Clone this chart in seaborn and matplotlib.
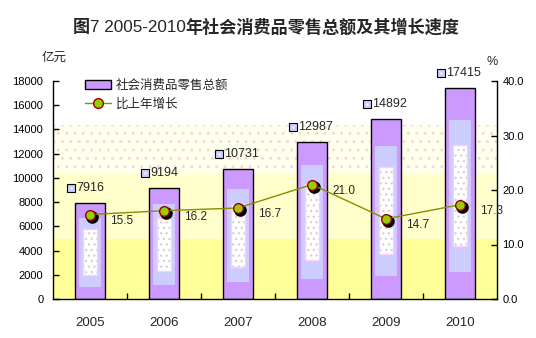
import matplotlib
matplotlib.use('Agg')
import matplotlib.pyplot as plt
from matplotlib.patches import Patch
from matplotlib.lines import Line2D
from matplotlib.transforms import ScaledTranslation
from matplotlib.ticker import FixedLocator, FormatStrFormatter
import numpy as np
import seaborn as sns

# 2005-2010 社会消费品零售总额 (亿元) and year-on-year growth (%)
years = ['2005', '2006', '2007', '2008', '2009', '2010']
retail_sales = [7916, 9194, 10731, 12987, 14892, 17415]
growth_rate = [15.5, 16.2, 16.7, 21.0, 14.7, 17.3]

sales_ticks = list(range(0, 18001, 2000))
rate_ticks = [0, 10, 20, 30, 40]

sns.set_style('white')
plt.rcParams['font.family'] = ['Liberation Sans', 'Noto Sans CJK SC', 'DejaVu Sans']
plt.rcParams['hatch.linewidth'] = 0.9
plt.rcParams['axes.unicode_minus'] = False

PURPLE = '#CC99FF'
LAVENDER = '#CCCCFF'
PINK = '#FFCCFF'
LINE = '#8C8C00'
DOT = '#99CC00'
DOT_EDGE = '#990000'

W, H = 536, 338
fig = plt.figure(figsize=(W / 100, H / 100), dpi=100)
ax = fig.add_axes([53 / W, 39 / H, 444 / W, 218 / H])
ax2 = ax.twinx()

# banded background of the plot area
ax.axhspan(0, 4950, color='#FFFF99', lw=0, zorder=0)
ax.axhspan(4950, 10400, color='#FFFFCC', lw=0, zorder=0)
ax.axhspan(10400, 14400, facecolor='#FFFFEE', lw=0, zorder=0)
ax.axhspan(10400, 14400, facecolor='none', edgecolor='#FAD4D4',
           hatch='..', lw=0, zorder=0)

# main bars
bar_w = 0.405
sns.barplot(x=years, y=retail_sales, ax=ax, color=PURPLE, saturation=1,
            edgecolor='black', linewidth=1.0, width=bar_w, zorder=2)

# inner shading of each bar
pos = np.arange(len(years))
vals = np.asarray(retail_sales, dtype=float)
ax.bar(pos, vals * 0.72, bottom=vals * 0.13, width=bar_w * 0.72,
       color=LAVENDER, lw=0, zorder=3)
ax.bar(pos, vals * 0.48, bottom=vals * 0.25, width=bar_w * 0.48,
       facecolor='white', edgecolor='#D2D2D2', hatch='...', lw=0, zorder=4)
ax.bar(pos, vals * 0.48, bottom=vals * 0.25, width=bar_w * 0.48,
       fill=False, edgecolor=PINK, lw=1, zorder=5)

# value labels above bars, each preceded by a small legend square
px = fig.dpi_scale_trans
for i, v in enumerate(retail_sales):
    ax.annotate(f'{v}', xy=(i, v), xytext=(-14, 15), textcoords='offset pixels',
                ha='left', va='center', fontsize=9, zorder=10,
                annotation_clip=False)
sq_tf = ax.transData + ScaledTranslation(-19 / 100, 15 / 100, px)
ax.plot(pos, vals, ls='none', marker='s', ms=5.5, mfc=LAVENDER, mec='black',
        mew=0.8, transform=sq_tf, clip_on=False, zorder=10)
ax.plot(pos, vals, ls='none', marker='s', ms=1.4, mfc='white', mec='white',
        mew=0, transform=sq_tf, clip_on=False, zorder=11)

# growth line with shadowed markers
sns.pointplot(x=years, y=growth_rate, ax=ax2, color='black', markers='o',
              linestyles='none', errorbar=None)
shadow = ax2.lines[-1]
shadow.set_transform(ax2.transData + ScaledTranslation(2 / 100, -2 / 100, px))
shadow.set_markersize(7)
shadow.set_zorder(3)
sns.pointplot(x=years, y=growth_rate, ax=ax2, color=LINE, markers='o',
              linestyles='-', errorbar=None)
main = ax2.lines[-1]
main.set_linewidth(1.0)
main.set_markersize(7)
main.set_markerfacecolor(DOT)
main.set_markeredgecolor(DOT_EDGE)
main.set_markeredgewidth(1.0)
main.set_zorder(4)

for i, g in enumerate(growth_rate):
    ax2.annotate(f'{g:.1f}', xy=(i, g), xytext=(32, -6), textcoords='offset pixels',
                 ha='center', va='center', fontsize=8.5, zorder=10)

# axes limits and ticks
ax.set_xlim(-0.5, len(years) - 0.5)
ax.set_ylim(0, 18000)
ax2.set_ylim(0, 40)
ax.set_xlabel('')
ax.set_ylabel('')
ax2.set_xlabel('')
ax2.set_ylabel('')

ax.yaxis.set_major_locator(FixedLocator(sales_ticks))
ax2.yaxis.set_major_locator(FixedLocator(rate_ticks))
ax2.yaxis.set_major_formatter(FormatStrFormatter('%.1f'))
ax.xaxis.set_minor_locator(FixedLocator(np.arange(0.5, len(years) - 1, 1.0)))

ax.tick_params(axis='y', direction='in', length=4, width=1, labelsize=8,
               pad=7, left=True, colors='black')
ax2.tick_params(axis='y', direction='in', length=4, width=1, labelsize=8,
                pad=4, right=True, colors='black')
ax.tick_params(axis='x', which='major', length=0, labelsize=9.5, pad=13)
ax.tick_params(axis='x', which='minor', direction='in', length=4, width=1,
               bottom=True, color='black')

for a in (ax, ax2):
    a.spines['top'].set_visible(False)
    for s in ('left', 'right', 'bottom'):
        a.spines[s].set_color('black')
        a.spines[s].set_linewidth(1.0)
ax.spines['right'].set_visible(False)
ax2.spines['left'].set_visible(False)
ax2.spines['bottom'].set_visible(False)

# legend
handles = [
    Patch(facecolor=PURPLE, edgecolor='black', linewidth=1.0),
    Line2D([], [], color=LINE, lw=1.0, marker='o', ms=7, mfc=DOT,
           mec=DOT_EDGE, mew=1.0),
]
ax2.legend(handles, ['社会消费品零售总额', '比上年增长'], loc='upper left',
           bbox_to_anchor=(0.06, 1.03), frameon=False, fontsize=9,
           handlelength=2.1, handleheight=0.8, labelspacing=0.55,
           handletextpad=0.4, borderaxespad=0)

# unit labels
fig.text(54 / W, 1 - 58 / H, '亿元', fontsize=9, ha='center', va='center')
fig.text(492 / W, 1 - 62 / H, '%', fontsize=9, ha='center', va='center')

# title: bold Chinese with regular Latin year span
renderer = fig.canvas.get_renderer()
parts = [('图', 'bold'), ('7 2005-2010', 'normal'),
         ('年社会消费品零售总额及其增长速度', 'bold')]
texts = [fig.text(0, 1 - 27 / H, s, fontsize=12.3, fontweight=w, va='center')
         for s, w in parts]
widths = [t.get_window_extent(renderer).width for t in texts]
x = 266 - sum(widths) / 2
for t, w in zip(texts, widths):
    t.set_x(x / W)
    x += w

fig.savefig('out.png', dpi=100)
